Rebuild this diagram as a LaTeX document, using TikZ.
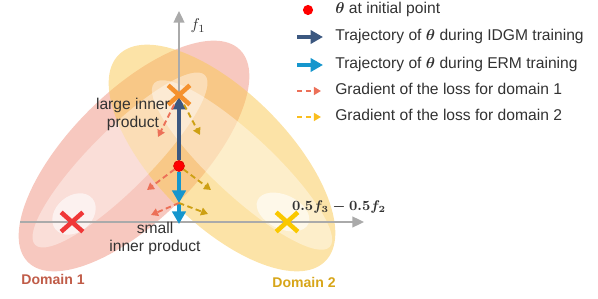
\documentclass[tikz,border=0pt]{standalone}
\usepackage{amsmath}
\usepackage{fontspec}
\setmainfont{Liberation Sans}
\usepackage{tikz}
\usetikzlibrary{arrows.meta, shapes.misc}
\definecolor{mytext}{RGB}{50,50,50}
\definecolor{mypink}{RGB}{238,138,118}
\definecolor{myyellow}{RGB}{250,200,80}
\definecolor{myidgm}{RGB}{60,88,128}
\definecolor{myerm}{RGB}{22,150,205}
\definecolor{mygradred}{RGB}{236,112,88}
\definecolor{mygradyel}{RGB}{205,160,20}
\definecolor{mylegyel}{RGB}{250,190,30}
\definecolor{myaxis}{RGB}{170,170,170}
\definecolor{mydomred}{RGB}{192,92,72}
\definecolor{mydomyel}{RGB}{215,165,25}
\definecolor{myxred}{RGB}{240,55,55}
\definecolor{myxorange}{RGB}{245,145,45}
\definecolor{myxyellow}{RGB}{250,200,0}
\tikzset{
  outerpink/.style={fill=mypink, fill opacity=0.47},
  outeryel/.style={fill=myyellow, fill opacity=0.5},
  midlayer/.style={fill=white, fill opacity=0.4},
  innerlayer/.style={fill=white, fill opacity=0.6},
  axisline/.style={-{Triangle[length=7.5pt,width=7pt]}, line width=1pt, color=myaxis},
  idgmarrow/.style={-{Triangle[length=8pt,width=8.5pt]}, line width=2.4pt, color=myidgm},
  ermarrow/.style={-{Triangle[length=8pt,width=8.5pt]}, line width=2.4pt, color=myerm},
  gradred/.style={-{Triangle[length=4.5pt,width=5pt]}, dash pattern=on 3.5pt off 2.2pt,
    line width=1.2pt, color=mygradred},
  gradyel/.style={-{Triangle[length=4.5pt,width=5pt]}, dash pattern=on 3.5pt off 2.2pt,
    line width=1.2pt, color=mygradyel},
  legyel/.style={gradyel, color=mylegyel},
  xmark/.style={cross out, draw=#1, line width=2.9pt, minimum width=11pt,
    minimum height=9.5pt, inner sep=0pt},
  initdot/.style={circle, fill=red, draw=red!85!black, minimum size=7pt, inner sep=0pt},
  lbl/.style={font=\fontsize{10}{11.5}\selectfont, text=mytext, align=center, inner sep=0pt},
  domlbl/.style={font=\fontsize{9}{10}\selectfont\bfseries, inner sep=0pt},
  legtext/.style={anchor=base west, font=\fontsize{10}{12}\selectfont, text=mytext, inner sep=0pt}
}
\begin{document}
\begin{tikzpicture}[x=0.64pt, y=-0.64pt]
  \useasboundingbox (0,0) rectangle (598,299);
  % loss contours of the two domains
  \fill[outerpink, rotate around={45:(134,156)}] (134,156) ellipse [x radius=150, y radius=64];
  \fill[outeryel, rotate around={-45:(222,158)}] (222,158) ellipse [x radius=146, y radius=66];
  \fill[midlayer, rotate around={45:(120,160)}] (120,160) ellipse [x radius=120, y radius=30];
  \fill[midlayer, rotate around={-43:(242,165)}] (242,165) ellipse [x radius=120, y radius=30];
  \fill[innerlayer, rotate around={40:(74,214)}] (74,214) ellipse [x radius=24, y radius=18];
  \fill[innerlayer, rotate around={-25:(283,212)}] (283,212) ellipse [x radius=28, y radius=17];

  % axes
  \coordinate (xstart) at (20,222);
  \coordinate (xend)   at (364,222);
  \coordinate (ystart) at (179,222);
  \coordinate (yend)   at (179,11);
  \draw[axisline] (xstart) -- (xend);
  \draw[axisline] (ystart) -- (yend);
  \node[lbl] (f1lbl) at (198,26) {$f_1$};
  \node[lbl, font=\fontsize{9.2}{11}\selectfont] (dirlbl) at (339,207) {$\boldsymbol{0.5f_3-0.5f_2}$};

  \node[xmark=myxred]    (xd1) at (72,222)  {};
  \node[xmark=myxyellow] (xd2) at (287,222) {};
  \node[initdot] (init) at (179,166) {};
  \coordinate (idgmtip) at (179,97);
  \coordinate (ermmid) at (179,203);
  \coordinate (ermend) at (179,224);

  % trajectories
  \draw[idgmarrow] (init) -- (idgmtip);
  \draw[ermarrow] (init) -- (ermmid);
  \draw[ermarrow] (ermmid) -- (ermend);
  \node[xmark=myxorange] (xorg) at (179,95) {};

  % gradients
  \coordinate (g1r) at (158,137);
  \coordinate (g1y) at (200,135);
  \coordinate (g2r) at (147,190);
  \coordinate (g2y) at (211,190);
  \coordinate (g3r) at (151,215);
  \coordinate (g3y) at (208,214);
  \draw[gradred] (xorg) -- (g1r);
  \draw[gradyel] (xorg) -- (g1y);
  \draw[gradred] (init) -- (g2r);
  \draw[gradyel] (init) -- (g2y);
  \draw[gradred] (ermmid) -- (g3r);
  \draw[gradyel] (ermmid) -- (g3y);

  \node[lbl] (large) at (133,114) {large inner\\product};
  \node[lbl] (small) at (155,238) {small\\inner product};
  \node[domlbl, text=mydomred] (dom1) at (53,279) {Domain 1};
  \node[domlbl, text=mydomyel] (dom2) at (304,282) {Domain 2};

  % legend
  \node[initdot, minimum size=6.5pt, draw=none] (legdot) at (308,10) {};
  \coordinate (la2) at (297,37);  \coordinate (lb2) at (323,37);
  \coordinate (la3) at (297,65);  \coordinate (lb3) at (323,65);
  \coordinate (la4) at (297,91);  \coordinate (lb4) at (321,91);
  \coordinate (la5) at (297,117); \coordinate (lb5) at (321,117);
  \draw[idgmarrow] (la2) -- (lb2);
  \draw[ermarrow] (la3) -- (lb3);
  \draw[gradred] (la4) -- (lb4);
  \draw[legyel] (la5) -- (lb5);
  \node[legtext] (leg1) at (335,14)  {$\boldsymbol{\theta}$ at initial point};
  \node[legtext] (leg2) at (335,41)  {Trajectory of $\boldsymbol{\theta}$ during IDGM training};
  \node[legtext] (leg3) at (335,69)  {Trajectory of $\boldsymbol{\theta}$ during ERM training};
  \node[legtext] (leg4) at (335,95)  {Gradient of the loss for domain 1};
  \node[legtext] (leg5) at (335,121) {Gradient of the loss for domain 2};
\end{tikzpicture}
\end{document}
